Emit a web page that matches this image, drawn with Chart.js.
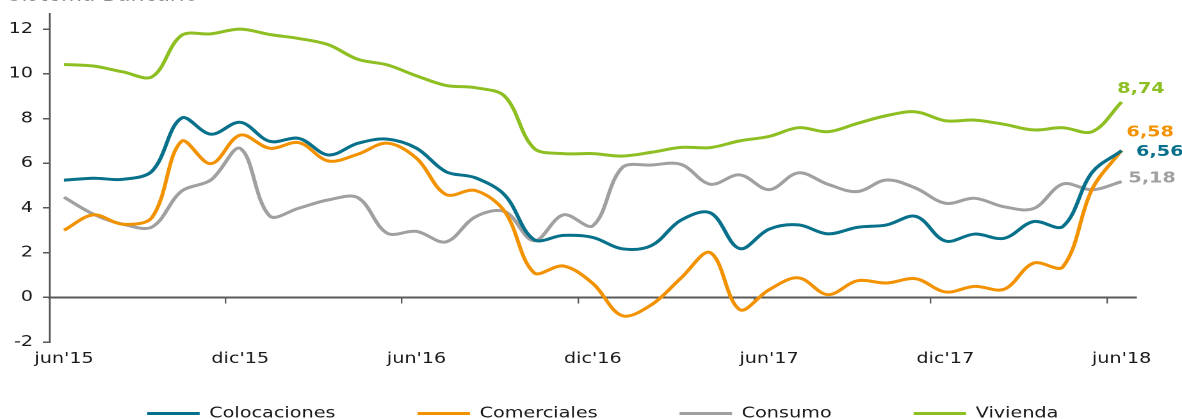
<!DOCTYPE html>
<html>
<head>
<meta charset="utf-8">
<script src="https://cdn.jsdelivr.net/npm/chart.js@4.4.1/dist/chart.umd.min.js"></script>
<style>
  html, body { margin: 0; padding: 0; background: #ffffff; overflow: hidden; width: 1182px; height: 419px; }
  #wrap { position: absolute; left: 0; top: -20px; width: 923px; height: 451px; transform: scaleX(1.28061); transform-origin: 0 0; }
  canvas { display: block; }
</style>
</head>
<body>
<div id="wrap"><canvas id="c" width="923" height="451" style="width:923px;height:451px"></canvas></div>
<script>
// ---- data ----
const categories = [
  "jun'15","jul'15","ago'15","sep'15","oct'15","nov'15",
  "dic'15","ene'16","feb'16","mar'16","abr'16","may'16",
  "jun'16","jul'16","ago'16","sep'16","oct'16","nov'16",
  "dic'16","ene'17","feb'17","mar'17","abr'17","may'17",
  "jun'17","jul'17","ago'17","sep'17","oct'17","nov'17",
  "dic'17","ene'18","feb'18","mar'18","abr'18","may'18",
  "jun'18"
];
const xTickLabels = ["jun'15","dic'15","jun'16","dic'16","jun'17","dic'17","jun'18"];
const yTickValues = [-2, 0, 2, 4, 6, 8, 10, 12];

const colocaciones = [5.24, 5.33, 5.28, 5.65, 8.02, 7.30, 7.83, 6.98, 7.11, 6.37, 6.89, 7.08,
  6.67, 5.62, 5.35, 4.58, 2.58, 2.77, 2.68, 2.17, 2.32, 3.45, 3.78, 2.18,
  3.05, 3.24, 2.84, 3.13, 3.24, 3.62, 2.52, 2.83, 2.64, 3.39, 3.17, 5.60, 6.56];
const comerciales = [3.00, 3.69, 3.27, 3.58, 6.98, 5.98, 7.26, 6.67, 6.92, 6.10, 6.40, 6.90,
  6.22, 4.60, 4.78, 3.84, 1.10, 1.40, 0.62, -0.82, -0.33, 0.86, 2.00, -0.55,
  0.34, 0.87, 0.12, 0.74, 0.64, 0.83, 0.24, 0.49, 0.36, 1.53, 1.36, 4.85, 6.58];
const consumo = [4.48, 3.72, 3.27, 3.15, 4.75, 5.25, 6.66, 3.64, 3.99, 4.36, 4.46, 2.87,
  2.95, 2.48, 3.60, 3.84, 2.53, 3.69, 3.20, 5.80, 5.92, 5.95, 5.06, 5.48,
  4.82, 5.57, 5.06, 4.73, 5.25, 4.88, 4.21, 4.43, 4.05, 3.97, 5.07, 4.81, 5.18];
const vivienda = [10.42, 10.35, 10.09, 9.87, 11.72, 11.79, 12.00, 11.76, 11.58, 11.30, 10.65, 10.40,
  9.91, 9.48, 9.38, 9.00, 6.67, 6.43, 6.43, 6.32, 6.49, 6.71, 6.70, 7.00,
  7.20, 7.59, 7.41, 7.78, 8.13, 8.30, 7.90, 7.93, 7.74, 7.49, 7.59, 7.41, 8.74];

const seriesNames = ["Colocaciones", "Comerciales", "Consumo", "Vivienda"];
const seriesValues = [colocaciones, comerciales, consumo, vivienda];

// ---- styles ----
const seriesColors = ["#07708A", "#F39200", "#A0A0A0", "#8DBF22"];
const endLabelOffsets = [ {dx: 11.3, dy: 1.5}, {dx: 3.8, dy: -17.5}, {dx: 5.3, dy: -3}, {dx: -3.4, dy: -13} ];
const FONT = '"DejaVu Sans", Verdana, sans-serif';
const TEXT = "#1a1a1a";
const AXIS = "#595959";

Chart.defaults.font.family = FONT;
Chart.defaults.color = TEXT;

const isShownTick = (i) => categories[i] !== undefined && xTickLabels.includes(categories[i]);

const endLabels = {
  id: "endLabels",
  afterDatasetsDraw(chart) {
    const ctx = chart.ctx;
    ctx.save();
    ctx.font = "bold 15px " + FONT;
    ctx.textAlign = "left";
    ctx.textBaseline = "middle";
    chart.data.datasets.forEach((ds, i) => {
      const meta = chart.getDatasetMeta(i);
      const pt = meta.data[meta.data.length - 1];
      const v = ds.data[ds.data.length - 1];
      const off = endLabelOffsets[i];
      ctx.fillStyle = ds.borderColor;
      ctx.fillText(v.toFixed(2).replace(".", ","), pt.x + off.dx, pt.y + off.dy);
    });
    ctx.restore();
  }
};

new Chart(document.getElementById("c"), {
  type: "line",
  data: {
    labels: categories,
    datasets: seriesNames.map((name, i) => ({
      label: name,
      data: seriesValues[i],
      borderColor: seriesColors[i],
      backgroundColor: seriesColors[i],
      borderWidth: 3,
      pointRadius: 0,
      pointHoverRadius: 0,
      tension: 0.35,
      fill: false
    }))
  },
  options: {
    responsive: false,
    animation: false,
    devicePixelRatio: 2,
    layout: { padding: { left: 6, right: -12.4, top: 0, bottom: 0 } },
    plugins: {
      tooltip: { enabled: false },
      title: {
        display: true,
        text: "Sistema Bancario",
        align: "start",
        color: TEXT,
        font: { size: 17, weight: "normal", family: FONT },
        padding: { top: 6, bottom: 7.1 }
      },
      legend: {
        position: "bottom",
        labels: {
          boxWidth: 41,
          boxHeight: 3,
          padding: 64,
          color: TEXT,
          font: { size: 15, family: FONT },
          generateLabels: (chart) =>
            Chart.defaults.plugins.legend.labels.generateLabels(chart).map(l => ({ ...l, lineWidth: 0, fillStyle: l.strokeStyle }))
        }
      }
    },
    scales: {
      x: {
        type: "category",
        position: "bottom",
        offset: true,
        display: false
      },
      x0: {
        type: "category",
        axis: "x",
        position: { y: 0 },
        offset: true,
        grid: {
          display: true,
          offset: true,
          drawOnChartArea: false,
          drawTicks: true,
          tickLength: 5,
          lineWidth: 1.2,
          color: (ctx) => isShownTick(ctx.index) ? AXIS : "rgba(0,0,0,0)"
        },
        border: { display: true, color: AXIS, width: 2 },
        ticks: {
          display: true,
          autoSkip: false,
          maxRotation: 0,
          padding: 48,
          color: TEXT,
          font: { size: 15, family: FONT },
          callback: function (v, i) { return isShownTick(i) ? categories[i] : ""; }
        },
        afterFit(s) { s.paddingLeft = 0; s.paddingRight = 0; s.paddingTop = 0; s.paddingBottom = 0; }
      },
      y: {
        type: "linear",
        position: "left",
        min: -2,
        max: 12.7,
        grid: { display: true, drawOnChartArea: false, drawTicks: true, tickLength: 5, color: AXIS, lineWidth: 1.5 },
        border: { display: true, color: AXIS, width: 1.5 },
        ticks: { padding: 7.7, color: TEXT, font: { size: 15, family: FONT } },
        afterBuildTicks(axis) { axis.ticks = yTickValues.map(v => ({ value: v })); },
        afterFit(s) { s.width = 32.5; }
      },
      y2: {
        type: "linear",
        position: "right",
        display: true,
        grid: { display: false },
        border: { display: false },
        ticks: { display: false },
        afterFit(s) { s.width = 48.1; }
      }
    }
  },
  plugins: [endLabels]
});
</script>
</body>
</html>
